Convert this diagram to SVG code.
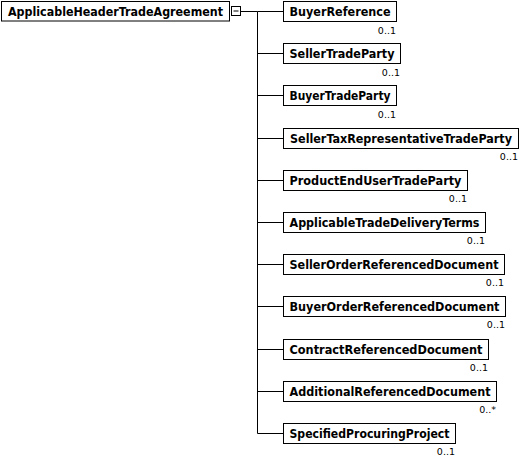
<svg xmlns="http://www.w3.org/2000/svg" width="522" height="465" viewBox="0 0 522 465">
<style>
.box{fill:#fff;stroke:#000;stroke-width:1}
.lbl{font-family:"DejaVu Sans Condensed","DejaVu Sans","Liberation Sans",sans-serif;font-weight:bold;font-size:12.5px;fill:#000}
.mul{font-family:"DejaVu Sans","Liberation Sans",sans-serif;font-size:9.5px;fill:#000;text-anchor:end}
.con{stroke:#000;stroke-width:1;fill:none}
</style>
<rect width="522" height="465" fill="#fff"/>
<g id="connectors">
<path class="con" d="M240.5 11.5H257.5M257.5 11.5V433.5M257.5 11.5H283.5M257.5 53.5H283.5M257.5 95.5H283.5M257.5 138.5H283.5M257.5 180.5H283.5M257.5 222.5H283.5M257.5 264.5H283.5M257.5 306.5H283.5M257.5 349.5H283.5M257.5 391.5H283.5M257.5 433.5H283.5"/>
</g>
<g id="root">
<rect class="box" x="1.5" y="1.5" width="228" height="19.5"/>
<text class="lbl" x="8" y="16" textLength="215" lengthAdjust="spacingAndGlyphs">ApplicableHeaderTradeAgreement</text>
<rect class="box" x="231.5" y="6.5" width="9" height="9"/>
<path class="con" d="M233.5 11H238.5"/>
</g>
<g id="n1"><rect class="box" x="283.5" y="1.5" width="113" height="20"/><text class="lbl" x="289.5" y="16" textLength="101" lengthAdjust="spacingAndGlyphs">BuyerReference</text><text class="mul" x="396" y="34">0..1</text></g>
<g id="n2"><rect class="box" x="283.5" y="43.5" width="117" height="20"/><text class="lbl" x="289.5" y="58" textLength="105" lengthAdjust="spacingAndGlyphs">SellerTradeParty</text><text class="mul" x="400" y="76">0..1</text></g>
<g id="n3"><rect class="box" x="283.5" y="85.5" width="113" height="20"/><text class="lbl" x="289.5" y="100" textLength="101" lengthAdjust="spacingAndGlyphs">BuyerTradeParty</text><text class="mul" x="396" y="118">0..1</text></g>
<g id="n4"><rect class="box" x="283.5" y="128.5" width="235" height="20"/><text class="lbl" x="290" y="143" textLength="222" lengthAdjust="spacingAndGlyphs">SellerTaxRepresentativeTradeParty</text><text class="mul" x="518" y="160">0..1</text></g>
<g id="n5"><rect class="box" x="283.5" y="170.5" width="184" height="20"/><text class="lbl" x="289.5" y="185" textLength="172" lengthAdjust="spacingAndGlyphs">ProductEndUserTradeParty</text><text class="mul" x="467" y="202">0..1</text></g>
<g id="n6"><rect class="box" x="283.5" y="212.5" width="202" height="20"/><text class="lbl" x="289.5" y="227" textLength="190" lengthAdjust="spacingAndGlyphs">ApplicableTradeDeliveryTerms</text><text class="mul" x="485" y="244">0..1</text></g>
<g id="n7"><rect class="box" x="283.5" y="254.5" width="221" height="20"/><text class="lbl" x="289.5" y="269" textLength="209" lengthAdjust="spacingAndGlyphs">SellerOrderReferencedDocument</text><text class="mul" x="504" y="286">0..1</text></g>
<g id="n8"><rect class="box" x="283.5" y="296.5" width="222" height="20"/><text class="lbl" x="289.5" y="311" textLength="210" lengthAdjust="spacingAndGlyphs">BuyerOrderReferencedDocument</text><text class="mul" x="505" y="328">0..1</text></g>
<g id="n9"><rect class="box" x="283.5" y="339.5" width="205" height="20"/><text class="lbl" x="289.5" y="354" textLength="193" lengthAdjust="spacingAndGlyphs">ContractReferencedDocument</text><text class="mul" x="488" y="371">0..1</text></g>
<g id="n10"><rect class="box" x="283.5" y="381.5" width="213" height="20"/><text class="lbl" x="289.5" y="396" textLength="201" lengthAdjust="spacingAndGlyphs">AdditionalReferencedDocument</text><text class="mul" x="496" y="413">0..*</text></g>
<g id="n11"><rect class="box" x="283.5" y="423.5" width="172" height="20"/><text class="lbl" x="289.5" y="438" textLength="160" lengthAdjust="spacingAndGlyphs">SpecifiedProcuringProject</text><text class="mul" x="455" y="455">0..1</text></g>
</svg>
